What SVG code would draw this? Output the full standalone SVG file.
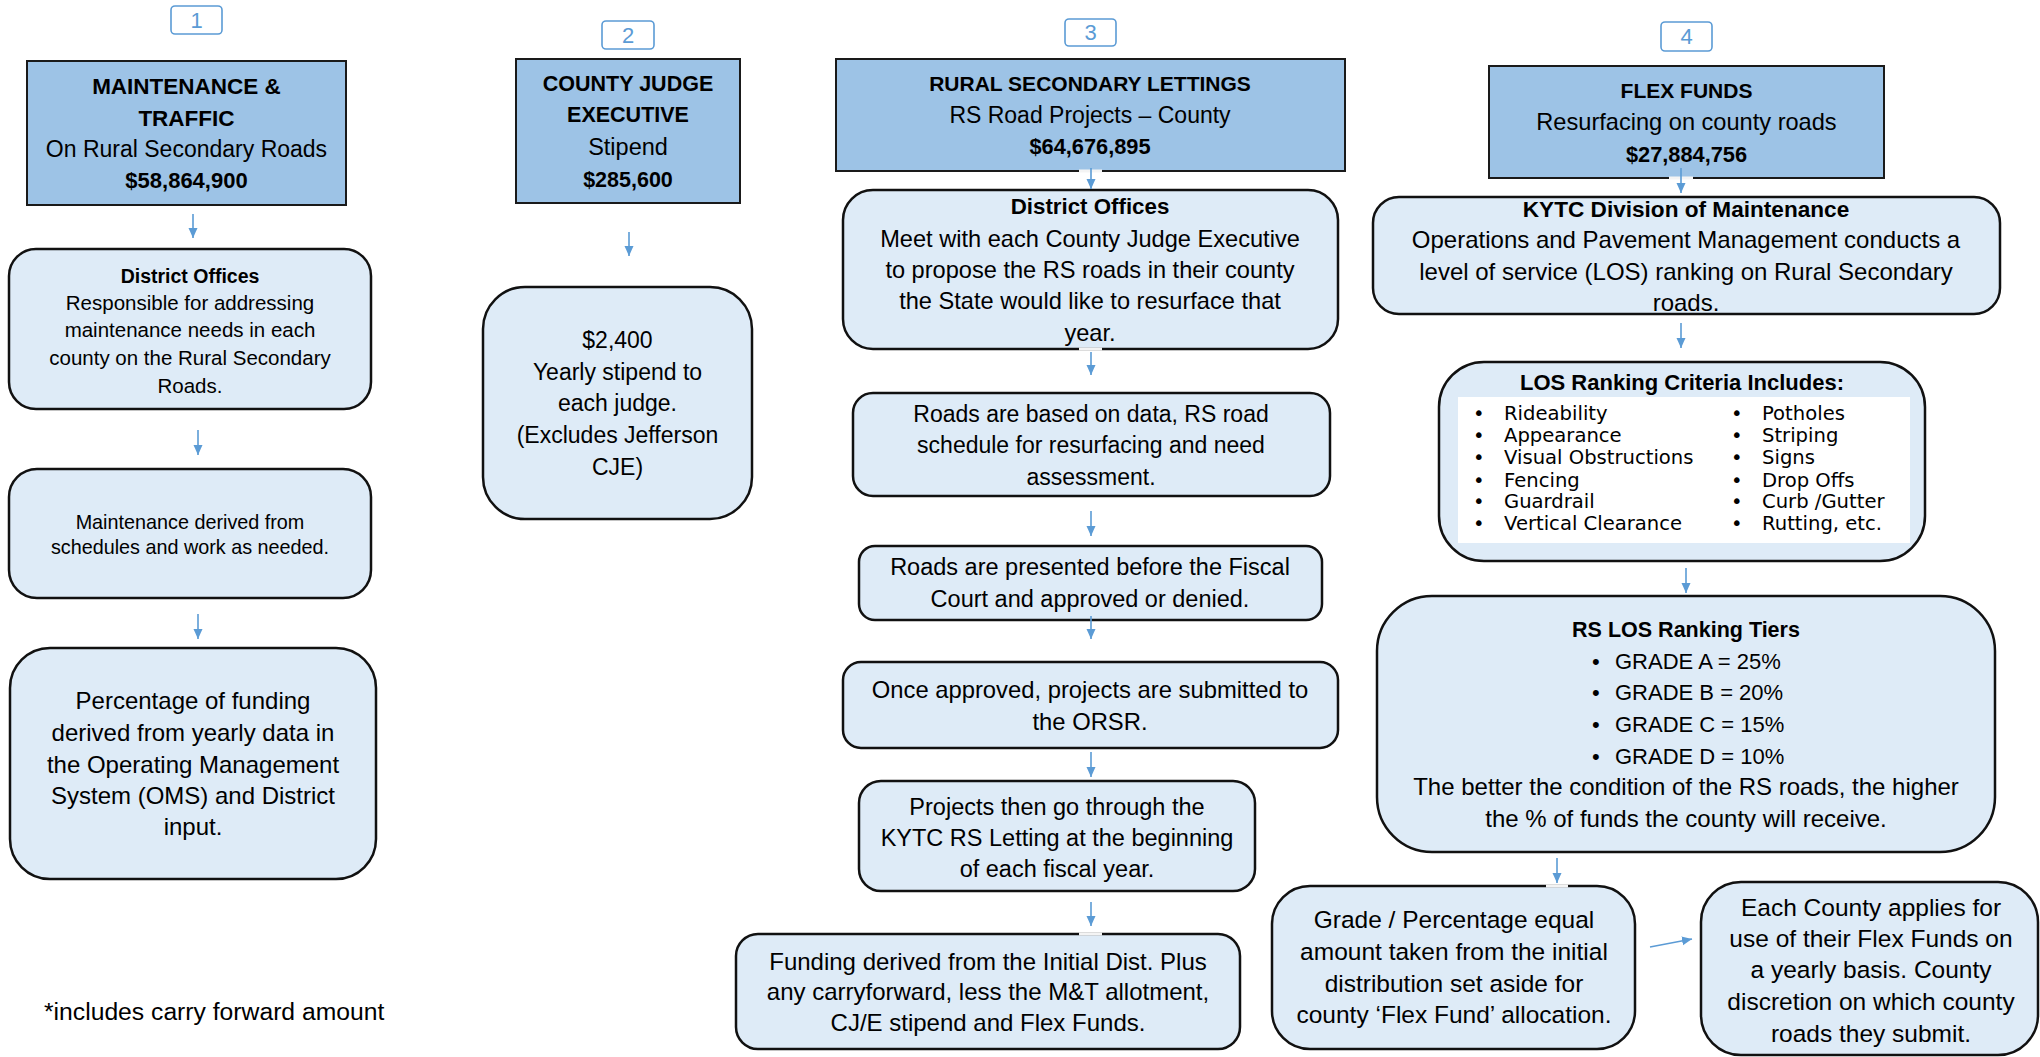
<svg xmlns="http://www.w3.org/2000/svg" width="2040" height="1057" viewBox="0 0 2040 1057">
<style>
text{font-family:"Liberation Sans",Arial,sans-serif;fill:#000;text-anchor:middle}
.b{font-weight:bold}
.hdr{fill:#9DC3E6;stroke:#1a1a1a;stroke-width:2}
.box{fill:#DEEBF7;stroke:#111;stroke-width:2.5}
.badge{fill:#fff;stroke:#5B9BD5;stroke-width:1.6}
.bt{fill:#5B9BD5;font-size:22px}
.inner{fill:#fff;stroke:none}
.li{font-family:"DejaVu Sans",Verdana,sans-serif;font-size:19.6px;text-anchor:start}
.conn line{stroke:#5B9BD5;stroke-width:1.6;marker-end:url(#ah)}
.conn .gap{stroke:#f4f4f4;stroke-width:3;marker-end:none}
</style>
<defs>
<marker id="ah" markerUnits="userSpaceOnUse" markerWidth="10" markerHeight="10" viewBox="0 0 10 10" refX="10" refY="5" orient="auto">
<path d="M0,0.5 L10,5 L0,9.5 z" fill="#5B9BD5"/>
</marker>
</defs>
<rect width="2040" height="1057" fill="#fff"/>

<!-- Column 1 -->
<g id="badge1"><rect class="badge" x="171" y="6" width="51" height="28" rx="4"/><text class="bt" x="196.5" y="28">1</text></g>
<g id="mt-header">
<rect class="hdr" x="27" y="61" width="319" height="144"/>
<text class="b" x="186.5" y="94" font-size="22.5">MAINTENANCE &amp;</text>
<text class="b" x="186.5" y="126" font-size="22.5">TRAFFIC</text>
<text x="186.5" y="157" font-size="23">On Rural Secondary Roads</text>
<text class="b" x="186.5" y="188" font-size="22">$58,864,900</text>
</g>
<g id="mt-district">
<rect class="box" x="9" y="249" width="362" height="160" rx="27"/>
<text class="b" x="190" y="283" font-size="19.5">District Offices</text>
<text x="190" y="310" font-size="20.5">Responsible for addressing</text>
<text x="190" y="337" font-size="20.5">maintenance needs in each</text>
<text x="190" y="365" font-size="20.5">county on the Rural Secondary</text>
<text x="190" y="393" font-size="20.5">Roads.</text>
</g>
<g id="mt-schedules">
<rect class="box" x="9" y="469" width="362" height="129" rx="28"/>
<text x="190" y="529" font-size="19.8">Maintenance derived from</text>
<text x="190" y="554" font-size="19.8">schedules and work as needed.</text>
</g>
<g id="mt-percentage">
<rect class="box" x="10" y="648" width="366" height="231" rx="40"/>
<text x="193" y="709" font-size="24">Percentage of funding</text>
<text x="193" y="741" font-size="24">derived from yearly data in</text>
<text x="193" y="773" font-size="24">the Operating Management</text>
<text x="193" y="804" font-size="24">System (OMS) and District</text>
<text x="193" y="835" font-size="24">input.</text>
</g>
<g id="footnote"><text x="44" y="1020" font-size="24.7" style="text-anchor:start">*includes carry forward amount</text></g>

<!-- Column 2 -->
<g id="badge2"><rect class="badge" x="602" y="21" width="52" height="28" rx="4"/><text class="bt" x="628" y="43">2</text></g>
<g id="cje-header">
<rect class="hdr" x="516" y="59" width="224" height="144"/>
<text class="b" x="628" y="91" font-size="21.5">COUNTY JUDGE</text>
<text class="b" x="628" y="122" font-size="21.5">EXECUTIVE</text>
<text x="628" y="155" font-size="23.5">Stipend</text>
<text class="b" x="628" y="187" font-size="21.5">$285,600</text>
</g>
<g id="cje-stipend">
<rect class="box" x="483" y="287" width="269" height="232" rx="42"/>
<text x="617.5" y="348" font-size="23">$2,400</text>
<text x="617.5" y="380" font-size="23">Yearly stipend to</text>
<text x="617.5" y="411" font-size="23">each judge.</text>
<text x="617.5" y="443" font-size="23">(Excludes Jefferson</text>
<text x="617.5" y="475" font-size="23">CJE)</text>
</g>

<!-- Column 3 -->
<g id="badge3"><rect class="badge" x="1065" y="19" width="51" height="27" rx="4"/><text class="bt" x="1090.5" y="40">3</text></g>
<g id="rs-header">
<rect class="hdr" x="836" y="59" width="509" height="112"/>
<text class="b" x="1090" y="91" font-size="21">RURAL SECONDARY LETTINGS</text>
<text x="1090" y="123" font-size="23">RS Road Projects – County</text>
<text class="b" x="1090" y="154" font-size="21.8">$64,676,895</text>
</g>
<g id="rs-district">
<rect class="box" x="843" y="190" width="495" height="159" rx="30"/>
<text class="b" x="1090" y="214" font-size="22.3">District Offices</text>
<text x="1090" y="247" font-size="23.6">Meet with each County Judge Executive</text>
<text x="1090" y="278" font-size="23.6">to propose the RS roads in their county</text>
<text x="1090" y="309" font-size="23.6">the State would like to resurface that</text>
<text x="1090" y="341" font-size="23.6">year.</text>
</g>
<g id="rs-data">
<rect class="box" x="853" y="393" width="477" height="103" rx="20"/>
<text x="1091" y="422" font-size="23">Roads are based on data, RS road</text>
<text x="1091" y="453" font-size="23">schedule for resurfacing and need</text>
<text x="1091" y="485" font-size="23">assessment.</text>
</g>
<g id="rs-fiscal">
<rect class="box" x="859" y="546" width="463" height="74" rx="16"/>
<text x="1090" y="575" font-size="23.5">Roads are presented before the Fiscal</text>
<text x="1090" y="607" font-size="23.5">Court and approved or denied.</text>
</g>
<g id="rs-orsr">
<rect class="box" x="843" y="662" width="495" height="86" rx="18"/>
<text x="1090" y="698" font-size="23.8">Once approved, projects are submitted to</text>
<text x="1090" y="730" font-size="23.8">the ORSR.</text>
</g>
<g id="rs-letting">
<rect class="box" x="859" y="781" width="396" height="110" rx="22"/>
<text x="1057" y="815" font-size="23.5">Projects then go through the</text>
<text x="1057" y="846" font-size="23.5">KYTC RS Letting at the beginning</text>
<text x="1057" y="877" font-size="23.5">of each fiscal year.</text>
</g>
<g id="rs-funding">
<rect class="box" x="736" y="934" width="504" height="115" rx="22"/>
<text x="988" y="970" font-size="24">Funding derived from the Initial Dist. Plus</text>
<text x="988" y="1000" font-size="24">any carryforward, less the M&amp;T allotment,</text>
<text x="988" y="1031" font-size="24">CJ/E stipend and Flex Funds.</text>
</g>

<!-- Column 4 -->
<g id="badge4"><rect class="badge" x="1661" y="22" width="51" height="29" rx="4"/><text class="bt" x="1686.5" y="44">4</text></g>
<g id="flex-header">
<rect class="hdr" x="1489" y="66" width="395" height="112"/>
<text class="b" x="1686.5" y="98" font-size="21">FLEX FUNDS</text>
<text x="1686.5" y="130" font-size="23.6">Resurfacing on county roads</text>
<text class="b" x="1686.5" y="162" font-size="21.8">$27,884,756</text>
</g>
<g id="flex-kytc">
<rect class="box" x="1373" y="197" width="627" height="117" rx="26"/>
<text class="b" x="1686" y="217" font-size="22.6">KYTC Division of Maintenance</text>
<text x="1686" y="248" font-size="24">Operations and Pavement Management conducts a</text>
<text x="1686" y="280" font-size="24">level of service (LOS) ranking on Rural Secondary</text>
<text x="1686" y="311" font-size="24">roads.</text>
</g>
<g id="flex-criteria">
<rect class="box" x="1439" y="362" width="486" height="199" rx="45"/>
<rect class="inner" x="1458" y="397" width="452" height="146"/>
<text class="b" x="1682" y="390" font-size="22">LOS Ranking Criteria Includes:</text>
<text class="li" x="1473" y="420">•</text><text class="li" x="1504" y="420">Rideability</text>
<text class="li" x="1473" y="442">•</text><text class="li" x="1504" y="442">Appearance</text>
<text class="li" x="1473" y="464">•</text><text class="li" x="1504" y="464">Visual Obstructions</text>
<text class="li" x="1473" y="487">•</text><text class="li" x="1504" y="487">Fencing</text>
<text class="li" x="1473" y="508">•</text><text class="li" x="1504" y="508">Guardrail</text>
<text class="li" x="1473" y="530">•</text><text class="li" x="1504" y="530">Vertical Clearance</text>
<text class="li" x="1731" y="420">•</text><text class="li" x="1762" y="420">Potholes</text>
<text class="li" x="1731" y="442">•</text><text class="li" x="1762" y="442">Striping</text>
<text class="li" x="1731" y="464">•</text><text class="li" x="1762" y="464">Signs</text>
<text class="li" x="1731" y="487">•</text><text class="li" x="1762" y="487">Drop Offs</text>
<text class="li" x="1731" y="508">•</text><text class="li" x="1762" y="508">Curb /Gutter</text>
<text class="li" x="1731" y="530">•</text><text class="li" x="1762" y="530">Rutting, etc.</text>
</g>
<g id="flex-tiers">
<rect class="box" x="1377" y="596" width="618" height="256" rx="55"/>
<text class="b" x="1686" y="637" font-size="21.5">RS LOS Ranking Tiers</text>
<g font-size="22">
<text x="1592" y="669" style="text-anchor:start">•</text><text x="1615" y="669" style="text-anchor:start">GRADE A = 25%</text>
<text x="1592" y="700" style="text-anchor:start">•</text><text x="1615" y="700" style="text-anchor:start">GRADE B = 20%</text>
<text x="1592" y="732" style="text-anchor:start">•</text><text x="1615" y="732" style="text-anchor:start">GRADE C = 15%</text>
<text x="1592" y="764" style="text-anchor:start">•</text><text x="1615" y="764" style="text-anchor:start">GRADE D = 10%</text>
</g>
<text x="1686" y="795" font-size="24">The better the condition of the RS roads, the higher</text>
<text x="1686" y="827" font-size="24">the % of funds the county will receive.</text>
</g>
<g id="flex-grade">
<rect class="box" x="1272" y="886" width="363" height="163" rx="38"/>
<text x="1454" y="928" font-size="24.5">Grade / Percentage equal</text>
<text x="1454" y="960" font-size="24.5">amount taken from the initial</text>
<text x="1454" y="992" font-size="24.5">distribution set aside for</text>
<text x="1454" y="1023" font-size="24.5">county ‘Flex Fund’ allocation.</text>
</g>
<g id="flex-apply">
<rect class="box" x="1701" y="882" width="337" height="173" rx="40"/>
<text x="1871" y="916" font-size="24.5">Each County applies for</text>
<text x="1871" y="947" font-size="24.5">use of their Flex Funds on</text>
<text x="1871" y="978" font-size="24.5">a yearly basis. County</text>
<text x="1871" y="1010" font-size="24.5">discretion on which county</text>
<text x="1871" y="1042" font-size="24.5">roads they submit.</text>
</g>

<!-- Connectors -->
<g id="connectors" class="conn">
<line class="gap" x1="1079" y1="171" x2="1102" y2="171"/>
<line class="gap" x1="1079" y1="349" x2="1102" y2="349"/>
<line class="gap" x1="1079" y1="934" x2="1102" y2="934"/>
<line class="gap" x1="1669" y1="178" x2="1693" y2="178"/>
<line class="gap" x1="1546" y1="886" x2="1568" y2="886"/>
<line x1="193" y1="214" x2="193" y2="238"/>
<line x1="198" y1="430" x2="198" y2="455"/>
<line x1="198" y1="614" x2="198" y2="639"/>
<line x1="629" y1="232" x2="629" y2="256"/>
<line x1="1091" y1="168" x2="1091" y2="189"/>
<line x1="1091" y1="352" x2="1091" y2="375"/>
<line x1="1091" y1="511" x2="1091" y2="536"/>
<line x1="1091" y1="616" x2="1091" y2="639"/>
<line x1="1091" y1="752" x2="1091" y2="777"/>
<line x1="1091" y1="902" x2="1091" y2="926"/>
<line x1="1681" y1="168" x2="1681" y2="193"/>
<line x1="1681" y1="323" x2="1681" y2="348"/>
<line x1="1686" y1="568" x2="1686" y2="593"/>
<line x1="1557" y1="858" x2="1557" y2="883"/>
<line x1="1650" y1="947" x2="1692" y2="939"/>
</g>
</svg>
